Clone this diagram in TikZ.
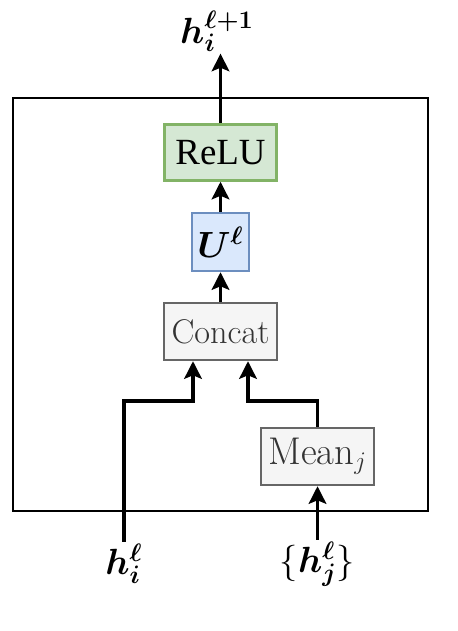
\documentclass[tikz,border=0pt]{standalone}
\usepackage{bm}
\usepackage{fontspec}
\newfontfamily\timesfont{Liberation Serif}
\usetikzlibrary{arrows.meta}

\definecolor{relufill}{HTML}{D5E8D4}
\definecolor{reludraw}{HTML}{82B366}
\definecolor{linfill}{HTML}{DAE8FC}
\definecolor{lindraw}{HTML}{6C8EBF}
\definecolor{opfill}{HTML}{F5F5F5}
\definecolor{opdraw}{HTML}{666666}
\definecolor{optext}{HTML}{333333}

\tikzset{
  relubox/.style={draw=reludraw,fill=relufill,line width=1.4pt,minimum width=2.24cm,minimum height=1.12cm,
    font=\timesfont\fontsize{21}{25}\selectfont},
  linbox/.style={draw=lindraw,fill=linfill,line width=1.4pt,minimum width=1.14cm,minimum height=1.16cm,inner sep=1pt},
  opbox/.style={draw=opdraw,fill=opfill,text=optext,line width=1.4pt,minimum width=2.26cm,minimum height=1.14cm,inner sep=1pt,
    font=\fontsize{19.5}{23}\selectfont},
  lbl/.style={font=\fontsize{20}{24}\selectfont,inner sep=1pt},
  arr/.style={line width=1.9pt,-{Stealth[length=10pt,width=10pt,inset=2pt]}},
}

\begin{document}
\begin{tikzpicture}[x=0.02cm,y=-0.02cm,font=\fontsize{21}{25}\selectfont]
    \useasboundingbox (0,0) rectangle (457,631);

    %% outer frame
    \draw[line width=0.9pt] (13,98) rectangle (428,511);

    %% layer blocks
    \node (relu) [relubox] at (220.5,152.5) {ReLU};
    \node (lin) [linbox] at (220.5,242) {$\bm{U}^{\bm{\ell}}$};
    \node (concat) [opbox] at (220.5,331.5) {Concat};
    \node (mean) [opbox,font=\fontsize{22}{26}\selectfont] at (317.5,456.5) {Mean$_j$};

    %% inputs and output
    \node (hi) [lbl] at (124,564) {$\bm{h}_{\bm{i}}^{\bm{\ell}}$};
    \node (hj) [lbl] at (317.5,564) {$\{\bm{h}_{\bm{j}}^{\bm{\ell}}\}$};
    \node (out) [lbl] at (217,31) {$\bm{h}_{\bm{i}}^{\bm{\ell+1}}$};

    %% bends into concat
    \coordinate (lj) at (193,401);
    \coordinate (rj) at (248,401);

    \draw[arr] (hi.north) |- (lj) -- (lj |- concat.south);
    \draw[arr] (mean.north) |- (rj) -- (rj |- concat.south);
    \draw[arr] (hj.north -| mean.south) -- (mean.south);
    \draw[arr] (concat.north) -- (lin.south);
    \draw[arr] (lin.north) -- (relu.south);
    \draw[arr] (relu.north) -- (relu.north |- out.south);
  \end{tikzpicture}
\end{document}
